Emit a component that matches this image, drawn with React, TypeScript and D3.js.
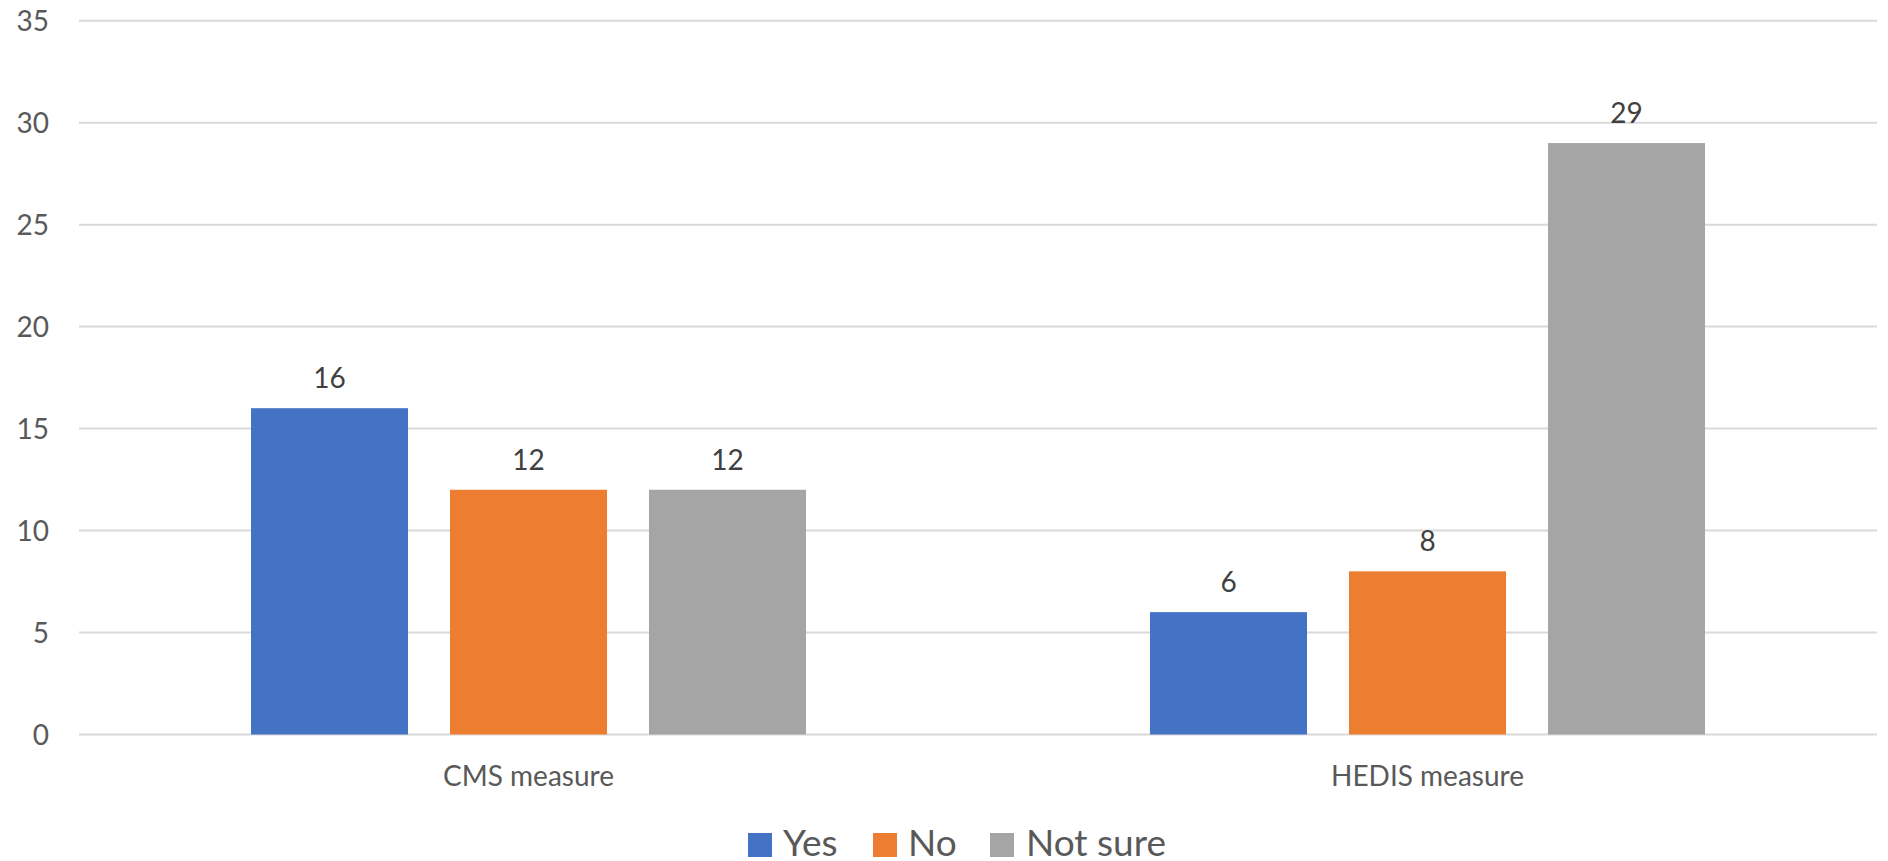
import React from "react";
import * as d3 from "d3";

const categories = ["CMS measure", "HEDIS measure"];
const seriesNames = ["Yes", "No", "Not sure"];
const yesValues = [16, 6];
const noValues = [12, 8];
const notSureValues = [12, 29];
const yTicks = [0, 5, 10, 15, 20, 25, 30, 35];
const colors = ["#4472C4", "#ED7D31", "#A5A5A5"];

const W = 1888;
const H = 861;
const FONT = "Lato, 'Open Sans', sans-serif";

export default function App() {
  const seriesValues = [yesValues, noValues, notSureValues];
  const x = d3.scaleBand<string>().domain(categories).range([79, 1877]).paddingInner(0).paddingOuter(0);
  const inner = d3
    .scaleBand<string>()
    .domain(seriesNames)
    .range([-277.5, 277.5])
    .paddingInner(0.211)
    .paddingOuter(0);
  const y = d3.scaleLinear().domain([0, 35]).range([734.5, 20.7]);

  const legendItems = [
    { name: "Yes", sx: 748, tx: 783 },
    { name: "No", sx: 873, tx: 908 },
    { name: "Not sure", sx: 990, tx: 1026 },
  ];

  return (
    <svg
      width={W}
      height={H}
      style={{ position: "absolute", left: 0, top: 0, background: "#fff" }}
      fontFamily={FONT}
    >
      {yTicks.map((t) => (
        <g key={t}>
          <line x1={79} x2={1877} y1={y(t)} y2={y(t)} stroke="#D9D9D9" strokeWidth={2} />
          <text x={49} y={y(t)} dy="0.36em" textAnchor="end" fontSize={28} fill="#595959">
            {t}
          </text>
        </g>
      ))}
      {categories.map((c, ci) => {
        const cx = (x(c) as number) + x.bandwidth() / 2;
        return (
          <g key={c}>
            {seriesNames.map((s, si) => {
              const v = seriesValues[si][ci];
              const bx = cx + (inner(s) as number);
              return (
                <g key={s}>
                  <rect x={bx} y={y(v)} width={inner.bandwidth()} height={y(0) - y(v)} fill={colors[si]} />
                  <text
                    x={bx + inner.bandwidth() / 2}
                    y={y(v) - 20}
                    textAnchor="middle"
                    fontSize={28}
                    fill="#404040"
                  >
                    {v}
                  </text>
                </g>
              );
            })}
            <text x={cx} y={786} textAnchor="middle" fontSize={28} fill="#595959">
              {c}
            </text>
          </g>
        );
      })}
      {legendItems.map((l, i) => (
        <g key={l.name}>
          <rect x={l.sx} y={833} width={24} height={24} fill={colors[i]} />
          <text x={l.tx} y={856} fontSize={37} fill="#595959">
            {seriesNames[i]}
          </text>
        </g>
      ))}
    </svg>
  );
}
